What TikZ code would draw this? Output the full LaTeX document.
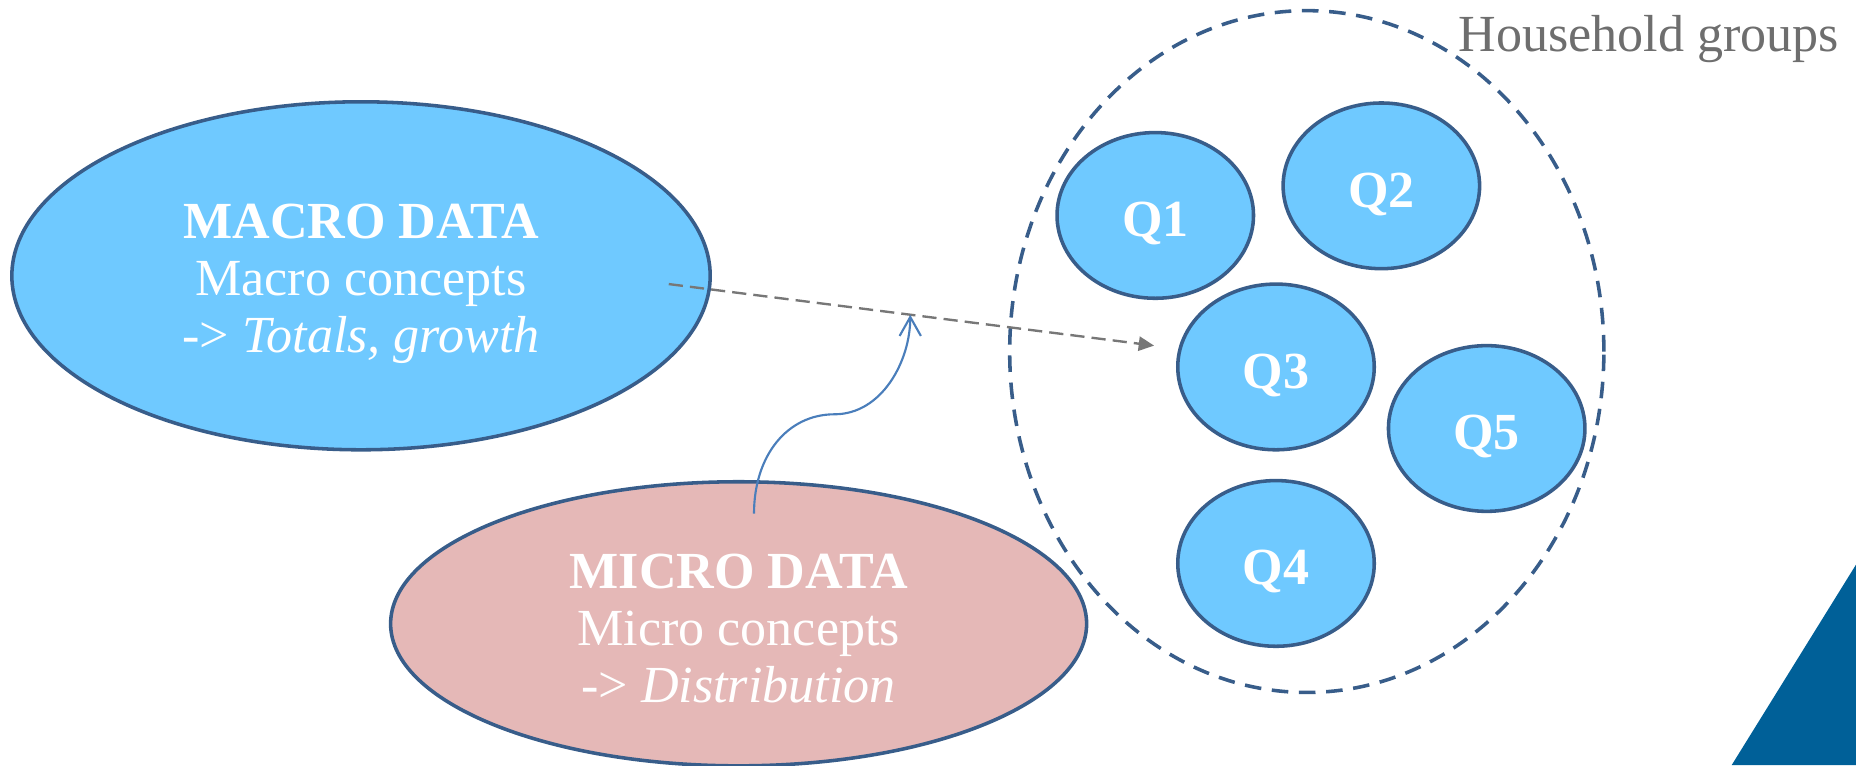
\documentclass[tikz,border=0pt]{standalone}
\usepackage{fontspec}
\setmainfont{Liberation Serif}
\usetikzlibrary{shapes.geometric,arrows.meta}
\definecolor{lblue}{HTML}{6FC9FF}
\definecolor{outl}{HTML}{385D8A}
\definecolor{pinkf}{HTML}{E5B8B7}
\definecolor{garrow}{HTML}{777777}
\definecolor{barrow}{HTML}{4A7EBB}
\definecolor{tri}{HTML}{006098}
\definecolor{hgray}{HTML}{6E6E6E}
\begin{document}
\begin{tikzpicture}[x=0.5pt,y=-0.5pt,
  big/.style={ellipse, draw=outl, line width=1.5pt, inner sep=0pt},
  bigtext/.style={text=white, align=center, inner sep=0pt,
    font=\fontsize{22pt}{24pt}\selectfont},
  qnode/.style={ellipse, draw=outl, line width=1.5pt, fill=lblue, minimum width=83pt,
    minimum height=70pt, inner sep=0pt, text height=18pt, text depth=0pt,
    text=white, font=\fontsize{22pt}{24pt}\selectfont\bfseries},
  group/.style={ellipse, draw=outl, line width=1.5pt, dash pattern=on 7pt off 4.5pt,
    minimum width=251pt, minimum height=288pt, inner sep=0pt},
  link/.style={draw=garrow, line width=1pt, dash pattern=on 6pt off 3pt,
    -{Triangle[length=6.5pt,width=6pt]}},
  influence/.style={draw=barrow, line width=0.9pt, -{Straight Barb[length=8pt,width=9pt]}}
]
\useasboundingbox (0,0) rectangle (1568,646.3);
\node[big, fill=lblue, minimum width=295pt, minimum height=147pt] (macro) at (305,233) {};
\node[bigtext] (macrotext) at (305,240)
  {\textbf{MACRO DATA}\\Macro concepts\\-> \textit{Totals, growth}};
\node[big, fill=pinkf, minimum width=294pt, minimum height=120pt] (micro) at (624,527) {};
\node[bigtext] (microtext) at (624,531)
  {\textbf{MICRO DATA}\\Micro concepts\\-> \textit{Distribution}};
\node[group] (grp) at (1104,297) {};
\node[text=hgray, font=\fontsize{22pt}{24pt}\selectfont] (grplabel) at (1393,33) {Household groups};
\node[qnode] (q1) at (976,182) {Q1};
\node[qnode] (q2) at (1167,157) {Q2};
\node[qnode] (q3) at (1078,310) {Q3};
\node[qnode] (q5) at (1256,362) {Q5};
\node[qnode] (q4) at (1078,476) {Q4};
\coordinate (gs) at (565,240);
\coordinate (ge) at (975,292);
\draw[link] (gs) -- (ge);
\coordinate (bs) at (637,434);
\coordinate (bt) at (769,266);
\draw[influence] (bs) .. controls (637,385) and (665,350) .. (705,350)
  .. controls (745,350) and (769,305) .. (bt);
\fill[tri] (1463,646.3) -- (1568,477) -- (1568,646.3) -- cycle;
\end{tikzpicture}
\end{document}
